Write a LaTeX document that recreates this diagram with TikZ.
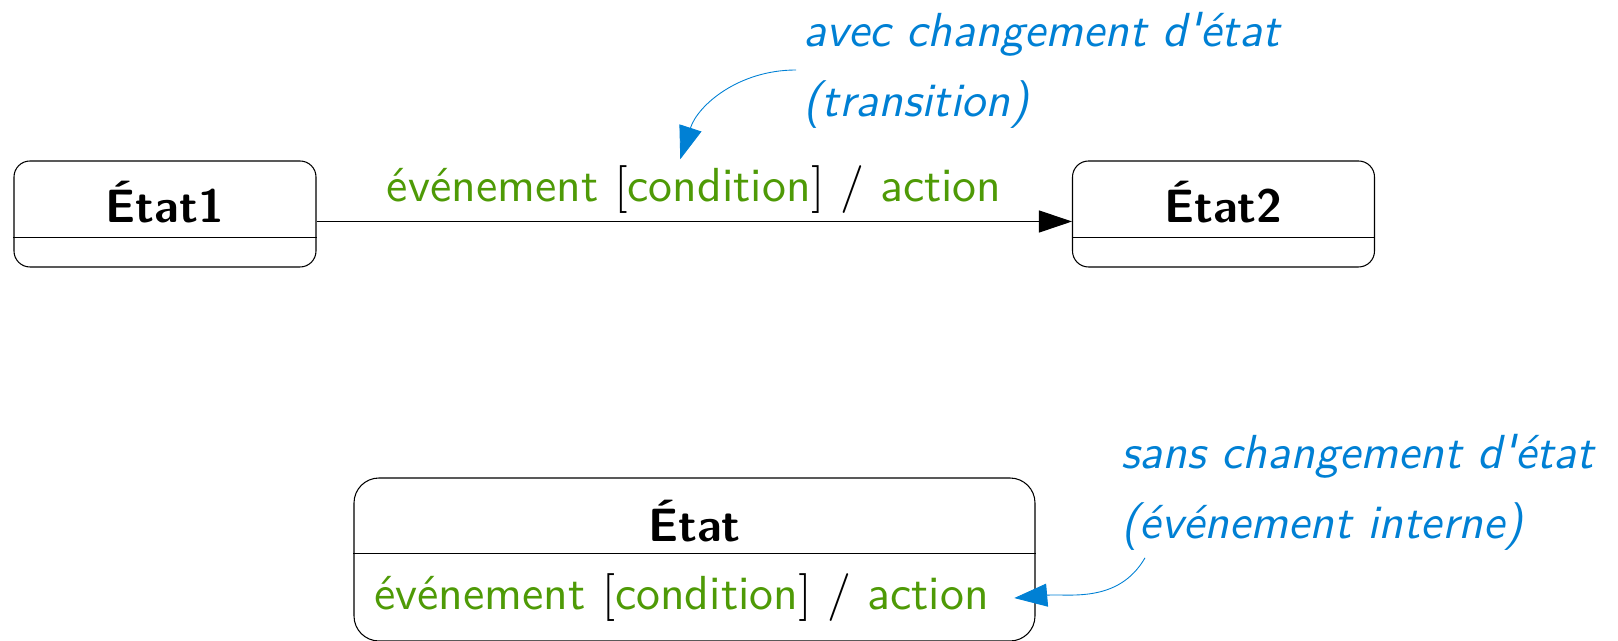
\documentclass[tikz,border=0pt]{standalone}
\usepackage{graphicx}
\usepackage{tikz}
\usetikzlibrary{arrows.meta,positioning,calc}
\definecolor{vert}{RGB}{78,154,6}
\definecolor{bleu}{RGB}{0,128,212}

\newcommand{\grand}[1]{\scalebox{2.72}{#1}}
\newcommand{\evtcond}{\grand{{\color{vert}événement} $\mathbf{[}${\color{vert}condition}$\mathbf{]}$ / {\color{vert}action}}}
\newcommand{\deuxlignes}[2]{\grand{\vbox{\baselineskip=14.6pt\hbox{#1}\hbox{#2}}}}

\begin{document}
\begin{tikzpicture}[
    etat/.style={draw, line width=0.6pt, rounded corners=0.32cm, minimum width=6.04cm, minimum height=2.12cm, inner sep=0pt},
    nometat/.style={font=\sffamily\bfseries\fontsize{26.6}{30}\selectfont, inner sep=0pt},
    evt/.style={font=\sffamily\fontsize{10}{12}\selectfont, inner sep=0pt},
    note/.style={font=\sffamily\slshape\fontsize{10}{12}\selectfont, text=bleu, inner sep=0.14cm},
    trans/.style={line width=0.6pt, -{Triangle[length=0.66cm,width=0.44cm]}},
    renvoi/.style={bleu, line width=0.5pt, -{Triangle[length=0.66cm,width=0.46cm]}}
]
    \useasboundingbox (0,0) rectangle (32.36,12.82);

    % Transition avec changement d'etat
    \node[etat] (etat1) at (3.30,8.54) {};
    \node[etat] (etat2) at (24.47,8.54) {};
    \draw ([yshift=0.6cm]etat1.south west) -- ([yshift=0.6cm]etat1.south east);
    \draw ([yshift=0.6cm]etat2.south west) -- ([yshift=0.6cm]etat2.south east);
    \node[nometat, anchor=base] (nom1) at ([yshift=-0.18cm]etat1.center) {État1};
    \node[nometat, anchor=base] (nom2) at ([yshift=-0.18cm]etat2.center) {État2};

    \draw[trans] ([yshift=-0.15cm]etat1.east) -- ([yshift=-0.15cm]etat2.west);
    \node[evt, anchor=base] (lbl) at ($(etat1.east)!0.5!(etat2.west)+(0,0.24)$) {\evtcond};

    \node[note, anchor=west] (note1) at (15.92,11.42) {\deuxlignes{avec changement d\textquotesingle état}{(transition)}};
    \draw[renvoi] (note1.west) to[out=180, in=72] ([xshift=-0.28cm, yshift=0.13cm]lbl.north);

    % Evenement interne
    \node[etat, minimum width=13.62cm, minimum height=3.26cm, rounded corners=0.5cm] (etat) at (13.89,1.63) {};
    \draw ([yshift=-1.52cm]etat.north west) -- ([yshift=-1.52cm]etat.north east);
    \node[nometat, anchor=base] (nom) at (13.89,1.98) {État};
    \node[evt, anchor=base west] (inter) at (7.48,0.62) {\evtcond};

    \node[note, anchor=west] (note2) at (22.28,2.97) {\deuxlignes{sans changement d\textquotesingle état}{(événement interne)}};
    \draw[renvoi] ([xshift=0.62cm]note2.south west) to[out=240, in=5] ([xshift=0.5cm]inter.east);

\end{tikzpicture}
\end{document}
